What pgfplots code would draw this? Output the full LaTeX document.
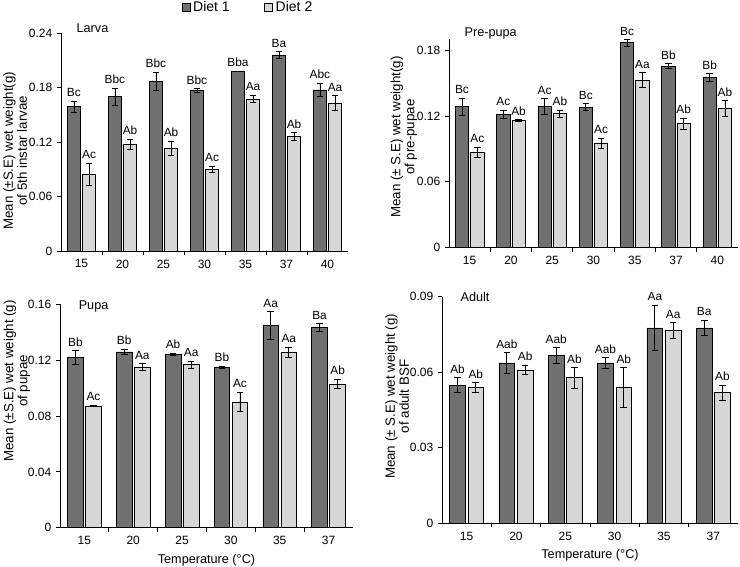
\documentclass[border=0pt]{standalone}
\usepackage{pgfplots}
\usepackage{pgfplotstable}
\pgfplotsset{compat=1.18}
\usepackage{fontspec}
\setmainfont{Liberation Sans}
\definecolor{dA}{RGB}{112,112,112}
\definecolor{dB}{RGB}{214,214,214}

\pgfplotstableread{
x d1 e1 d2 e2 l1 l2
0 0.159 0.006 0.0845 0.0125 Bc Ac
1 0.170 0.0097 0.1176 0.0055 Bbc Ab
2 0.187 0.010 0.113 0.008 Bbc Ab
3 0.177 0.002 0.090 0.0037 Bbc Ac
4 0.198 0.0005 0.1676 0.004 Bba Aa
5 0.216 0.004 0.1264 0.004 Ba Ab
6 0.1775 0.0075 0.163 0.008 Abc Aa
}\larva

\pgfplotstableread{
x d1 e1 d2 e2 l1 l2
0 0.1284 0.0079 0.0871 0.0044 Bc Ac
1 0.1214 0.004 0.116 0.0008 Ac Ab
2 0.1284 0.0073 0.122 0.0033 Ac Ab
3 0.128 0.003 0.095 0.005 Bc Ac
4 0.1867 0.003 0.1527 0.0068 Bc Aa
5 0.1654 0.002 0.113 0.005 Bb Ab
6 0.155 0.0036 0.127 0.007 Bb Ab
}\prepupa

\pgfplotstableread{
x d1 e1 d2 e2 l1 l2
0 0.122 0.005 0.0872 0.0005 Bb Ac
1 0.1259 0.002 0.115 0.0025 Bb Aa
2 0.1242 0.0007 0.1168 0.0026 Ab Aa
3 0.1151 0.0007 0.090 0.007 Bb Ac
4 0.1447 0.010 0.1259 0.0036 Aa Aa
5 0.1433 0.003 0.1029 0.0034 Ba Ab
}\pupa

\pgfplotstableread{
x d1 e1 d2 e2 l1 l2
0 0.0548 0.003 0.0539 0.0019 Ab Ab
1 0.0637 0.0041 0.0609 0.0019 Aab Ab
2 0.0667 0.003 0.0578 0.0041 Aab Ab
3 0.0637 0.002 0.0539 0.008 Aab Ab
4 0.0776 0.0091 0.0766 0.003 Aa Aa
5 0.0776 0.003 0.0519 0.003 Ba Ab
}\adult

\tikzset{ttl/.style={anchor=base west, font=\fontsize{9.5}{11}\selectfont}}

\pgfplotsset{
  panel/.style={
    scale only axis, anchor=south west,
    axis x line=bottom, axis y line=left,
    axis line style={-, line width=0.6pt},
    enlargelimits=false, ymin=0,
    xmin=-0.5,
    scaled y ticks=false,
    tick label style={font=\fontsize{9}{10}\selectfont},
    tick align=outside,
    major tick length=3pt, minor tick length=3pt,
    every major x tick/.style={draw=none},
    tick style={black, line width=0.6pt},
    ylabel style={font=\fontsize{10}{10.5}\selectfont, align=center, anchor=center},
    xlabel style={font=\fontsize{9.5}{11}\selectfont},
    clip=false,
  },
  errs/.style={
    error bars/y dir=both, error bars/y explicit,
    error bars/error bar style={line width=0.6pt, black},
    error bars/error mark options={rotate=90, line width=0.6pt, mark size=2.5pt, black}},
  d1bar/.style={ybar, bar width=0.32, bar shift=0, fill=dA, draw=black, line width=0.5pt, errs},
  d2bar/.style={ybar, bar width=0.32, bar shift=0, fill=dB, draw=black, line width=0.5pt, errs},
  lab/.style={draw=none, mark=none, forget plot, nodes near coords, point meta=explicit symbolic,
    nodes near coords style={font=\fontsize{8.9}{10}\selectfont, anchor=south, inner sep=1pt, yshift=2pt, text=black}},
  legsq/.style={legend image code/.code={\draw[##1, line width=0.5pt] (0pt,-3pt) rectangle (6pt,3pt);}},
}

\begin{document}
\begin{tikzpicture}
\useasboundingbox (0pt,0pt) rectangle (555pt,-425.25pt);

% Larva
\begin{axis}[panel, at={(45.75pt,-188.25pt)}, width=215.25pt, height=163.3pt,
  xmax=6.5, ymax=0.24,
  xtick={0,...,6}, xticklabels={15,20,25,30,35,37,40},
  minor xtick={0.5,1.5,...,5.5},
  ytick={0,0.06,0.12,0.18,0.24}, yticklabels={0,0.06,0.12,0.18,0.24},
  ylabel={Mean (±S.E) wet weight(g)\\of 5th instar larvae},
  ylabel style={at={(axis description cs:-0.16,0.46)}},
  legend style={at={(axis description cs:0.653,1.119)}, anchor=center, draw=none, fill=none,
    font=\fontsize{10.5}{12}\selectfont, legend columns=2,
    /tikz/every even column/.append style={column sep=24pt}},
  legend cell align=left,
]
\addlegendimage{legsq, fill=dA}\addlegendentry{Diet 1}
\addlegendimage{legsq, fill=dB}\addlegendentry{Diet 2}
\addplot[forget plot, d1bar] table[x expr=\thisrow{x}-0.185, y=d1, y error=e1] {\larva};
\addplot[forget plot, d2bar] table[x expr=\thisrow{x}+0.185, y=d2, y error=e2] {\larva};
\addplot[lab] table[x expr=\thisrow{x}-0.185, y expr=\thisrow{d1}+\thisrow{e1}, meta=l1] {\larva};
\addplot[lab] table[x expr=\thisrow{x}+0.185, y expr=\thisrow{d2}+\thisrow{e2}, meta=l2] {\larva};
\node[ttl] at (axis description cs:0.038,1.005) {Larva};
\end{axis}

% Pre-pupa
\begin{axis}[panel, at={(336.75pt,-185.8pt)}, width=216.75pt, height=156.5pt,
  xmax=6.5, ymax=0.19,
  xtick={0,...,6}, xticklabels={15,20,25,30,35,37,40},
  minor xtick={0.5,1.5,...,5.5},
  ytick={0,0.06,0.12,0.18}, yticklabels={0,0.06,0.12,0.18},
  ylabel={Mean  (± S.E) wet weight(g)\\of pre-pupae},
  ylabel style={at={(axis description cs:-0.156,0.53)}},
]
\addplot[d1bar] table[x expr=\thisrow{x}-0.185, y=d1, y error=e1] {\prepupa};
\addplot[d2bar] table[x expr=\thisrow{x}+0.185, y=d2, y error=e2] {\prepupa};
\addplot[lab] table[x expr=\thisrow{x}-0.185, y expr=\thisrow{d1}+\thisrow{e1}, meta=l1] {\prepupa};
\addplot[lab] table[x expr=\thisrow{x}+0.185, y expr=\thisrow{d2}+\thisrow{e2}, meta=l2] {\prepupa};
\node[ttl] at (axis description cs:0.038,1.011) {Pre-pupa};
\end{axis}

% Pupa
\begin{axis}[panel, at={(45pt,-395.8pt)}, width=219.75pt, height=167.55pt,
  xmax=5.5, ymax=0.16,
  xtick={0,...,5}, xticklabels={15,20,25,30,35,37},
  minor xtick={0.5,1.5,...,4.5},
  ytick={0,0.04,0.08,0.12,0.16}, yticklabels={0,0.04,0.08,0.12,0.16},
  ylabel={Mean (±S.E) wet weight (g)\\of pupae},
  ylabel style={at={(axis description cs:-0.147,0.657)}},
  xlabel={Temperature (°C)},
]
\addplot[d1bar] table[x expr=\thisrow{x}-0.185, y=d1, y error=e1] {\pupa};
\addplot[d2bar] table[x expr=\thisrow{x}+0.185, y=d2, y error=e2] {\pupa};
\addplot[lab] table[x expr=\thisrow{x}-0.185, y expr=\thisrow{d1}+\thisrow{e1}, meta=l1] {\pupa};
\addplot[lab] table[x expr=\thisrow{x}+0.185, y expr=\thisrow{d2}+\thisrow{e2}, meta=l2] {\pupa};
\node[ttl] at (axis description cs:0.048,0.978) {Pupa};
\end{axis}

% Adult
\begin{axis}[panel, at={(331.5pt,-392.5pt)}, width=222pt, height=170pt,
  xmax=5.5, ymax=0.09,
  xtick={0,...,5}, xticklabels={15,20,25,30,35,37},
  minor xtick={0.5,1.5,...,4.5},
  ytick={0,0.03,0.06,0.09}, yticklabels={0,0.03,0.06,0.09},
  ylabel={Mean  (± S.E)  wet weight (g)\\of adult BSF},
  ylabel style={at={(axis description cs:-0.152,0.56)}},
  xlabel={Temperature (°C)},
]
\addplot[d1bar] table[x expr=\thisrow{x}-0.185, y=d1, y error=e1] {\adult};
\addplot[d2bar] table[x expr=\thisrow{x}+0.185, y=d2, y error=e2] {\adult};
\addplot[lab] table[x expr=\thisrow{x}-0.185, y expr=\thisrow{d1}+\thisrow{e1}, meta=l1] {\adult};
\addplot[lab] table[x expr=\thisrow{x}+0.185, y expr=\thisrow{d2}+\thisrow{e2}, meta=l2] {\adult};
\node[ttl] at (axis description cs:0.047,0.978) {Adult};
\end{axis}
\end{tikzpicture}
\end{document}
